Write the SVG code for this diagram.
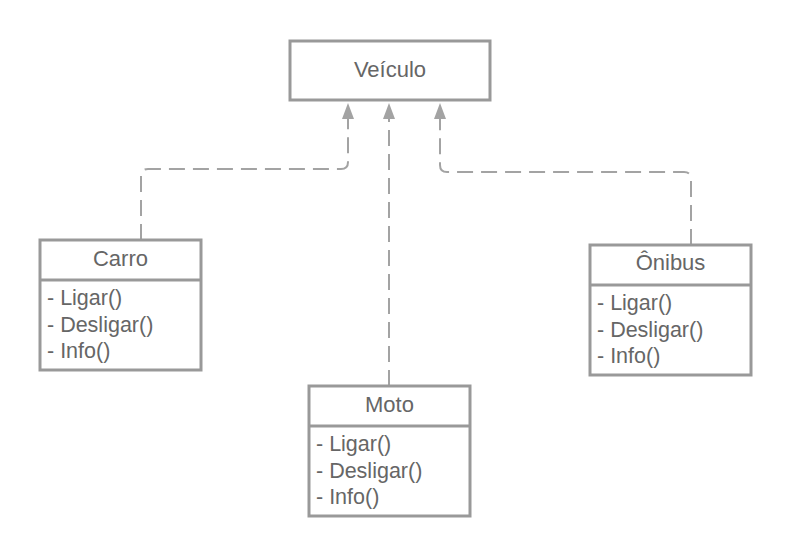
<svg xmlns="http://www.w3.org/2000/svg" width="790" height="557" viewBox="0 0 790 557">
<style>
.box{fill:#fff;stroke:#999;stroke-width:3}
.div{stroke:#999;stroke-width:3}
.t{font-family:"Liberation Sans",Arial,sans-serif;fill:#666;font-size:21.5px}
.c{text-anchor:middle;font-size:22px}
.conn{fill:none;stroke:#a3a3a3;stroke-width:2;stroke-dasharray:16,8}
.ah{fill:#a3a3a3}
</style>
<rect width="790" height="557" fill="#fff"/>
<g id="connectors">
<path class="conn" d="M141,240 V176 Q141,169 148,169 H341 Q348,169 348,162 V118"/>
<path class="conn" d="M389,386 V118"/>
<path class="conn" d="M691,245 V179 Q691,172 684,172 H447 Q440,172 440,165 V118"/>
<polygon class="ah" points="348,103 354,119 342,119"/>
<polygon class="ah" points="389,103 395,119 383,119"/>
<polygon class="ah" points="440,103 446,119 434,119"/>
</g>
<g id="veiculo">
<rect class="box" x="290" y="41" width="200" height="59"/>
<text class="t c" x="390" y="77">Veículo</text>
</g>
<g id="carro">
<rect class="box" x="40" y="240" width="161" height="130"/>
<line class="div" x1="40" y1="280" x2="201" y2="280"/>
<text class="t c" x="120.5" y="266">Carro</text>
<text class="t" x="47" y="305">- Ligar()</text>
<text class="t" x="47" y="331.5">- Desligar()</text>
<text class="t" x="47" y="358">- Info()</text>
</g>
<g id="moto">
<rect class="box" x="309" y="386" width="161" height="130"/>
<line class="div" x1="309" y1="426" x2="470" y2="426"/>
<text class="t c" x="389.5" y="412">Moto</text>
<text class="t" x="316" y="451">- Ligar()</text>
<text class="t" x="316" y="477.5">- Desligar()</text>
<text class="t" x="316" y="504">- Info()</text>
</g>
<g id="onibus">
<rect class="box" x="590" y="245" width="161" height="130"/>
<line class="div" x1="590" y1="285" x2="751" y2="285"/>
<text class="t c" x="670.5" y="270">Ônibus</text>
<text class="t" x="597" y="310">- Ligar()</text>
<text class="t" x="597" y="336.5">- Desligar()</text>
<text class="t" x="597" y="363">- Info()</text>
</g>
</svg>
